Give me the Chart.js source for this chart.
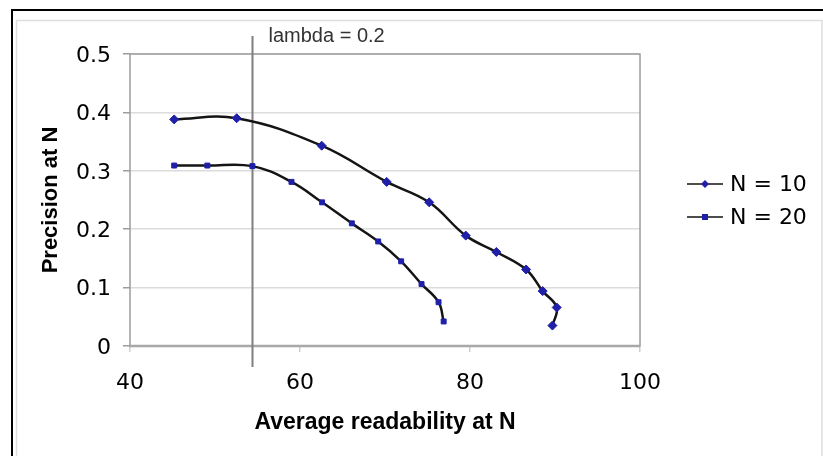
<!DOCTYPE html>
<html>
<head>
<meta charset="utf-8">
<title>Precision vs readability</title>
<script src="https://cdn.jsdelivr.net/npm/chart.js@4/dist/chart.umd.min.js"></script>
<style>
  html, body { margin: 0; padding: 0; background: #fff; }
  #chart { display: block; }
</style>
</head>
<body>
<canvas id="chart" width="823" height="456"></canvas>
<script>
// ---- data ----
const seriesLabels = ['N = 10', 'N = 20'];
const n10X = [45.2, 52.55, 62.55, 70.2, 75.2, 79.5, 83.1, 86.6, 88.55, 90.2, 89.7];
const n10Y = [0.388, 0.390, 0.343, 0.281, 0.246, 0.189, 0.161, 0.131, 0.094, 0.066, 0.035];
const n20X = [45.2, 49.1, 54.4, 59.0, 62.6, 66.1, 69.2, 71.9, 74.3, 76.3, 76.9];
const n20Y = [0.309, 0.309, 0.308, 0.281, 0.246, 0.210, 0.179, 0.145, 0.106, 0.075, 0.042];
const xTicks = [40, 60, 80, 100];
const yTicks = [0, 0.1, 0.2, 0.3, 0.4, 0.5];
const lambdaX = 54.4;
const lambdaLabel = 'lambda = 0.2';

const toPoints = (xs, ys) => xs.map((x, i) => ({ x, y: ys[i] }));

const MARK = '#1f1fa8';
const LINE = '#141414';
const TICK_FONT = { family: 'DejaVu Sans', size: 22 };

// frame + plot border + lambda marker + legend
const framePlugin = {
  id: 'frame',
  beforeDraw(chart) {
    const ctx = chart.ctx;
    ctx.save();
    ctx.fillStyle = '#fff';
    ctx.fillRect(0, 0, chart.width, chart.height);
    // outer black box
    ctx.strokeStyle = '#000';
    ctx.lineWidth = 2;
    ctx.beginPath();
    ctx.moveTo(12, chart.height + 5);
    ctx.lineTo(12, 10);
    ctx.lineTo(chart.width + 5, 10);
    ctx.stroke();
    // inner light box
    ctx.strokeStyle = '#dedede';
    ctx.lineWidth = 1.5;
    ctx.beginPath();
    ctx.moveTo(16.5, chart.height + 5);
    ctx.lineTo(16.5, 20.5);
    ctx.lineTo(822, 20.5);
    ctx.lineTo(822, chart.height + 5);
    ctx.stroke();
    ctx.restore();
  },
  beforeDatasetsDraw(chart) {
    const { ctx, chartArea: a, scales } = chart;
    ctx.save();
    ctx.strokeStyle = '#9c9c9c';
    ctx.lineWidth = 1.5;
    ctx.strokeRect(a.left, a.top, a.right - a.left, a.bottom - a.top);
    ctx.strokeStyle = '#a8a8a8';
    ctx.lineWidth = 2.5;
    ctx.beginPath();
    ctx.moveTo(a.left, a.bottom);
    ctx.lineTo(a.right, a.bottom);
    ctx.stroke();
    // lambda line
    const lx = Math.round(scales.x.getPixelForValue(lambdaX)) + 0.5;
    ctx.strokeStyle = '#7f7f7f';
    ctx.lineWidth = 2;
    ctx.beginPath();
    ctx.moveTo(lx, 36);
    ctx.lineTo(lx, 367);
    ctx.stroke();
    ctx.fillStyle = '#333';
    ctx.font = '20px "Liberation Sans", Arial, sans-serif';
    ctx.textAlign = 'left';
    ctx.textBaseline = 'alphabetic';
    ctx.fillText(lambdaLabel, lx + 16, 42);
    ctx.restore();
  },
  afterDraw(chart) {
    const { ctx, chartArea: a } = chart;
    const rows = [184, 217];
    ctx.save();
    chart.data.datasets.forEach((ds, i) => {
      const y = rows[i];
      const x0 = a.right + 47;
      ctx.strokeStyle = '#4d4d4d';
      ctx.lineWidth = 2;
      ctx.beginPath();
      ctx.moveTo(x0, y);
      ctx.lineTo(x0 + 36, y);
      ctx.stroke();
      ctx.fillStyle = MARK;
      const mx = x0 + 18;
      if (ds.pointStyle === 'rectRot') {
        ctx.beginPath();
        ctx.moveTo(mx, y - 4); ctx.lineTo(mx + 4, y); ctx.lineTo(mx, y + 4); ctx.lineTo(mx - 4, y);
        ctx.closePath();
        ctx.fill();
      } else {
        ctx.fillRect(mx - 3, y - 3, 6, 6);
      }
      ctx.fillStyle = '#000';
      ctx.font = '22px "DejaVu Sans", Verdana, sans-serif';
      ctx.textAlign = 'left';
      ctx.textBaseline = 'middle';
      ctx.fillText(ds.label, x0 + 43, y + 1);
    });
    ctx.restore();
  }
};

new Chart(document.getElementById('chart'), {
  type: 'scatter',
  data: {
    datasets: [
      {
        label: seriesLabels[0],
        data: toPoints(n10X, n10Y),
        showLine: true,
        tension: 0.4,
        borderColor: LINE,
        borderWidth: 2.5,
        pointStyle: 'rectRot',
        pointRadius: 4.5,
        pointBackgroundColor: MARK,
        pointBorderColor: MARK,
        pointBorderWidth: 1
      },
      {
        label: seriesLabels[1],
        data: toPoints(n20X, n20Y),
        showLine: true,
        tension: 0.4,
        borderColor: LINE,
        borderWidth: 2.5,
        pointStyle: 'rect',
        pointRadius: 3.5,
        pointBackgroundColor: MARK,
        pointBorderColor: MARK,
        pointBorderWidth: 1
      }
    ]
  },
  options: {
    responsive: false,
    devicePixelRatio: 1,
    animation: false,
    layout: { padding: { top: 54, right: 183, left: 0, bottom: 0 } },
    plugins: {
      legend: { display: false },
      tooltip: { enabled: false }
    },
    scales: {
      x: {
        type: 'linear',
        min: 40,
        max: 100,
        afterFit: (s) => { s.height = 110; },
        afterBuildTicks: (s) => { s.ticks = xTicks.map(v => ({ value: v })); },
        ticks: { color: '#000', font: TICK_FONT, padding: 18 },
        grid: { drawOnChartArea: false, tickLength: 6, tickColor: '#cfcfcf', lineWidth: 1.5 },
        border: { display: false },
        title: {
          display: true,
          text: 'Average readability at N',
          color: '#000',
          font: { family: 'Liberation Sans', size: 23, weight: 'bold' },
          padding: { top: 0, bottom: 20 }
        }
      },
      y: {
        min: 0,
        max: 0.5,
        afterFit: (s) => { s.width = 130; },
        afterBuildTicks: (s) => { s.ticks = yTicks.map(v => ({ value: v })); },
        ticks: { color: '#000', font: TICK_FONT, padding: 12, labelOffset: 2 },
        grid: { color: '#dcdcdc', lineWidth: 1.5, tickLength: 7, tickColor: '#9c9c9c' },
        border: { display: false },
        title: {
          display: true,
          text: 'Precision at N',
          color: '#000',
          font: { family: 'Liberation Sans', size: 22, weight: 'bold' },
          padding: { top: 38, bottom: 0 }
        }
      }
    }
  },
  plugins: [framePlugin]
});
</script>
</body>
</html>
